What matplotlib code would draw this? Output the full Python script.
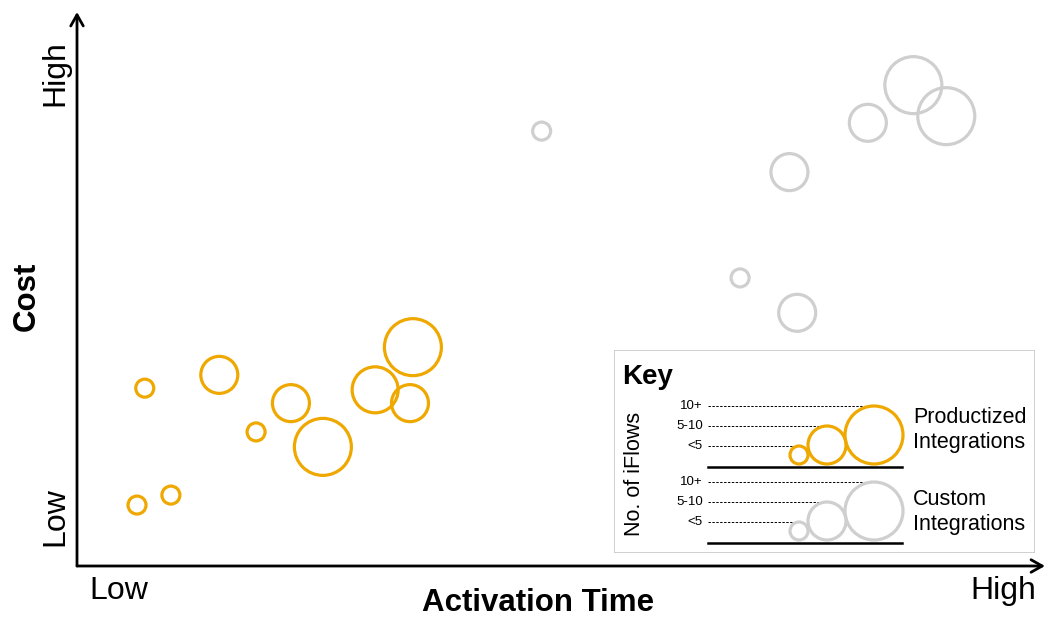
import matplotlib
matplotlib.use("Agg")
import matplotlib.pyplot as plt
from matplotlib.patches import Rectangle

plt.rcParams['font.family'] = ['Liberation Sans', 'DejaVu Sans']

ORANGE = "#EFA800"
GRAY = "#CFCFCF"

# Data (activation time 0-100, cost 0-100, iFlow size class 1=<5, 2=5-10, 3=10+)
prod_x = [7.0, 14.7, 18.5, 22.1, 25.4, 30.8, 34.4, 34.7, 6.2, 9.7]
prod_y = [32.1, 34.5, 24.2, 29.4, 21.5, 31.8, 29.4, 39.5, 11.0, 12.8]
prod_size = [1, 2, 1, 2, 3, 2.5, 2, 3, 1, 1]

cust_x = [48.0, 73.6, 68.5, 74.4, 81.7, 86.4, 89.8]
cust_y = [78.5, 71.1, 52.0, 45.7, 80.0, 86.8, 81.2]
cust_size = [1, 2, 1, 2, 2, 3, 3]

key_classes = [1, 2, 3]
key_labels = ["<5", "5-10", "10+"]

DPI = 100
RADIUS_PX = {1: 9, 2: 18.5, 2.5: 23, 3: 28.5}


def marker_area(c):
    d_pt = 2 * RADIUS_PX[c] * 72 / DPI
    return d_pt ** 2


W, H = 1048, 617
fig = plt.figure(figsize=(W / DPI, H / DPI), dpi=DPI)

# main plot area
x0, y0, x1, y1 = 77, 566, 1045, 12
ax = fig.add_axes([x0 / W, (H - y0) / H, (x1 - x0) / W, (y0 - y1) / H])
ax.set_xlim(0, 100)
ax.set_ylim(0, 100)
ax.axis("off")

ax.scatter(cust_x, cust_y, s=[marker_area(c) for c in cust_size],
           facecolors="none", edgecolors=GRAY, linewidths=2.3, zorder=3)
ax.scatter(prod_x, prod_y, s=[marker_area(c) for c in prod_size],
           facecolors="none", edgecolors=ORANGE, linewidths=2.3, zorder=3)

# axes arrows
ax.annotate("", xy=(0, 1.0), xytext=(0, 0), xycoords="axes fraction",
            arrowprops=dict(arrowstyle="->,head_length=0.8,head_width=0.45", lw=2, color="black",
                            shrinkA=0, shrinkB=0), annotation_clip=False)
ax.annotate("", xy=(1.0, 0), xytext=(0, 0), xycoords="axes fraction",
            arrowprops=dict(arrowstyle="->,head_length=0.8,head_width=0.45", lw=2, color="black",
                            shrinkA=0, shrinkB=0), annotation_clip=False)

# axis texts (figure pixel coords)
def fx(px):
    return px / W

def fy(py):
    return (H - py) / H

FS = 23
fig.text(fx(119), fy(591), "Low", fontsize=FS, ha="center", va="center")
fig.text(fx(1003), fy(591), "High", fontsize=FS, ha="center", va="center")
fig.text(fx(538), fy(603), "Activation Time", fontsize=FS - 0.5, fontweight="bold", ha="center", va="center")
fig.text(fx(55), fy(73), "High", fontsize=FS, rotation=90, ha="center", va="center")
fig.text(fx(55), fy(517), "Low", fontsize=FS, rotation=90, ha="center", va="center")
fig.text(fx(27), fy(296), "Cost", fontsize=FS - 0.5, fontweight="bold", rotation=90, ha="center", va="center")

# Key box
kx0, ky0, kx1, ky1 = 614, 350, 1035, 553
kax = fig.add_axes([kx0 / W, (H - ky1) / H, (kx1 - kx0) / W, (ky1 - ky0) / H])
kw, kh = kx1 - kx0, ky1 - ky0
kax.set_xlim(0, kw)
kax.set_ylim(kh, 0)
kax.axis("off")
kax.add_patch(Rectangle((0, 0), kw, kh, facecolor="white", edgecolor="#C8C8C8", lw=1.2, zorder=0))
kax.text(8, 27, "Key", fontsize=20, fontweight="bold", ha="left", va="center")
kax.text(20, 124, "No. of iFlows", fontsize=15.5, rotation=90, ha="center", va="center")

groups = [
    (ORANGE, 117, "Productized\nIntegrations", 80),
    (GRAY, 193, "Custom\nIntegrations", 162),
]
circle_x = [185, 213, 260]
for color, base, label, label_y in groups:
    kax.plot([94, 288], [base, base], color="black", lw=1.8, zorder=2)
    ys = []
    for c, cx in zip(key_classes, circle_x):
        r = RADIUS_PX[c] + (0 if c == 1 else 0.5)
        cy = base - r - 3
        ys.append((cy - r, cx))
        kax.scatter([cx], [cy], s=[(2 * r * 72 / DPI) ** 2], facecolors="none",
                    edgecolors=color, linewidths=2.3, zorder=3)
    for (top, cx), lab in zip(ys, key_labels):
        kax.plot([94, cx + 2], [top, top], color="black", lw=0.7, ls=(0, (2.5, 1.5)), zorder=1)
        kax.text(89, top, lab, fontsize=9.5, ha="right", va="center")
    kax.text(299, label_y, label, fontsize=15.5, ha="left", va="center", linespacing=1.2)

fig.savefig("out.png", dpi=DPI)
